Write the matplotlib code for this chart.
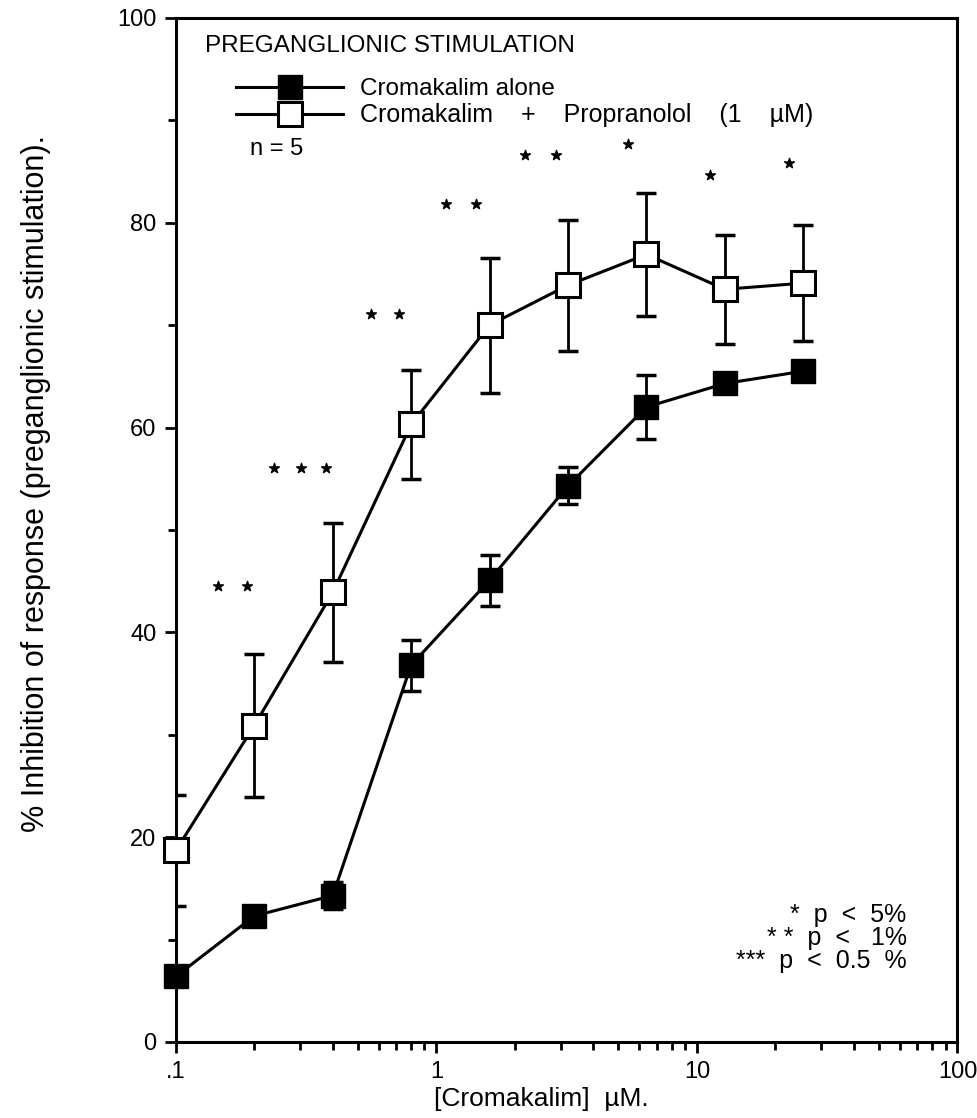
import matplotlib
matplotlib.use("Agg")
import matplotlib.pyplot as plt
from matplotlib.lines import Line2D
from matplotlib.ticker import FixedLocator, NullFormatter, LogLocator

plt.rcParams['font.family'] = ['Liberation Sans', 'DejaVu Sans']

# concentraciones de cromakalim (uM)
conc = [0.1, 0.2, 0.4, 0.8, 1.6, 3.2, 6.4, 12.8, 25.6]

# cromakalim solo
alone = [6.4, 12.3, 14.3, 36.8, 45.1, 54.3, 62.0, 64.3, 65.5]
alone_err = [0.0, 0.0, 1.3, 2.5, 2.5, 1.8, 3.1, 0.0, 0.0]

# cromakalim + propranolol 1 uM
prop = [18.7, 30.9, 43.9, 60.3, 70.0, 73.9, 76.9, 73.5, 74.1]
prop_err = [5.4, 7.0, 6.8, 5.3, 6.6, 6.4, 6.0, 5.3, 5.7]

# asteriscos de significacion
star_x = [0.145, 0.188, 0.239, 0.301, 0.378, 0.559, 0.72, 1.09, 1.42,
          2.19, 2.87, 5.45, 11.2, 22.5]
star_y = [44.5, 44.5, 56.0, 56.0, 56.0, 71.1, 71.1, 81.8, 81.8,
          86.6, 86.6, 87.7, 84.7, 85.8]

legend_title = "PREGANGLIONIC STIMULATION"
labels = ["Cromakalim alone",
          "Cromakalim    +    Propranolol    (1    \u00b5M)"]
sig_text = ["*  p  <  5%", "* *  p  <   1%", "***  p  <  0.5  %"]

fig = plt.figure(figsize=(9.77, 11.18), dpi=100)
ax = fig.add_axes([0.180, 0.068, 0.800, 0.916])

ax.errorbar(conc, prop, yerr=prop_err, fmt='none', ecolor='black',
            elinewidth=2.0, capsize=7.5, capthick=2.5, zorder=2)
ax.errorbar(conc, alone, yerr=alone_err, fmt='none', ecolor='black',
            elinewidth=2.0, capsize=7.5, capthick=2.5, zorder=2)
ax.plot(conc, prop, color='black', lw=2.2, marker='s', markersize=17,
        markerfacecolor='white', markeredgecolor='black', markeredgewidth=2.2,
        zorder=3, clip_on=False)
ax.plot(conc, alone, color='black', lw=2.2, marker='s', markersize=17,
        markerfacecolor='black', markeredgecolor='black', zorder=3, clip_on=False)

ax.scatter(star_x, star_y, marker='*', s=55, color='black', zorder=4)

ax.set_xscale('log')
ax.set_xlim(0.1, 100)
ax.set_ylim(0, 100)
ax.set_xticks([0.1, 1, 10, 100])
ax.set_xticklabels(['.1', '1', '10', '100'])
ax.xaxis.set_minor_locator(LogLocator(base=10, subs=range(2, 10)))
ax.xaxis.set_minor_formatter(NullFormatter())
ax.set_yticks([0, 20, 40, 60, 80, 100])
ax.yaxis.set_minor_locator(FixedLocator([10, 30, 50, 70, 90]))

ax.tick_params(which='major', direction='out', length=8, width=2, labelsize=17, pad=6)
ax.tick_params(which='minor', direction='out', length=6, width=2)
for s in ax.spines.values():
    s.set_linewidth(2.2)

ax.set_xlabel("[Cromakalim]  \u00b5M.", fontsize=19)
ax.xaxis.set_label_coords(0.467, -0.044)
ax.set_ylabel("% Inhibition of response (preganglionic stimulation).", fontsize=22)
ax.yaxis.set_label_coords(-0.16, 0.545)

# leyenda
ax.text(0.037, 0.973, legend_title, transform=ax.transAxes, fontsize=17.5,
        va='center', ha='left')
handles = [Line2D([], [], color='black', lw=2.2, marker='s', markersize=17,
                  markerfacecolor='black'),
           Line2D([], [], color='black', lw=2.2, marker='s', markersize=17,
                  markerfacecolor='white', markeredgewidth=2.2)]
leg = ax.legend(handles, labels, loc='upper left', bbox_to_anchor=(0.062, 0.953),
                frameon=False, fontsize=17.5, handlelength=4.4, handletextpad=0.7,
                labelspacing=0.12, borderpad=0)
leg.get_texts()[1].set_fontsize(18)
ax.text(0.095, 0.872, "n = 5", transform=ax.transAxes, fontsize=17,
        va='center', ha='left')

for i, t in enumerate(sig_text):
    ax.text(0.935, 0.124 - i * 0.0225, t, transform=ax.transAxes, fontsize=18,
            ha='right', va='center')

fig.savefig("out.png", dpi=100)
